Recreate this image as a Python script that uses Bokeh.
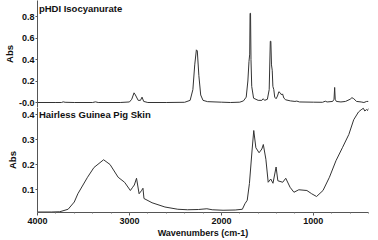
from bokeh.plotting import figure
from bokeh.layouts import column
from bokeh.models import Range1d, FixedTicker, CustomJSTickFormatter, Label, Span
from bokeh.embed import file_html
from bokeh.resources import INLINE

# pHDI Isocyanurate spectrum (wavenumber cm-1, absorbance)
top_wn = [4000, 3800, 3740, 3720, 3700, 3600, 3400, 3370, 3340, 3100, 3000, 2975, 2950, 2935,
          2905, 2880, 2863, 2845, 2800, 2600, 2400, 2340, 2310, 2290, 2272, 2262, 2245, 2225,
          2200, 2150, 2000, 1900, 1800, 1760, 1730, 1712, 1700, 1692, 1688, 1683, 1678, 1670,
          1650, 1600, 1560, 1545, 1530, 1500, 1480, 1468, 1462, 1455, 1447, 1440, 1430, 1420,
          1405, 1390, 1375, 1360, 1345, 1335, 1320, 1300, 1250, 1200, 1180, 1150, 1000, 900,
          870, 850, 790, 775, 768, 762, 750, 700, 650, 600, 580, 560, 530, 480, 450, 420, 400]
top_abs = [0.0, 0.0, 0.0, 0.006, 0.002, 0.0, 0.0, 0.006, 0.0, 0.0, 0.005, 0.03, 0.09, 0.07,
           0.02, 0.02, 0.05, 0.01, 0.0, 0.0, 0.002, 0.02, 0.12, 0.35, 0.49, 0.48, 0.25, 0.07,
           0.02, 0.008, 0.003, 0.0, 0.003, 0.015, 0.05, 0.2, 0.38, 0.45, 0.83, 0.83, 0.40, 0.15,
           0.04, 0.02, 0.02, 0.035, 0.02, 0.03, 0.12, 0.57, 0.57, 0.35, 0.30, 0.15, 0.12, 0.05,
           0.035, 0.06, 0.10, 0.09, 0.07, 0.08, 0.04, 0.025, 0.015, 0.01, 0.013, 0.005, 0.003, 0.002,
           0.012, 0.005, 0.01, 0.03, 0.14, 0.03, 0.01, 0.005, 0.01, 0.03, 0.045, 0.035, 0.01, 0.005,
           0.0, 0.01, 0.01]

# Hairless Guinea Pig Skin spectrum
bot_wn = [4000, 3850, 3758, 3667, 3600, 3561, 3456, 3386, 3281, 3211, 3123, 3053, 2990, 2965,
          2947, 2923, 2895, 2870, 2853, 2842, 2754, 2614, 2474, 2368, 2250, 2158, 2100, 1982,
          1850, 1772, 1744, 1719, 1695, 1667, 1648, 1625, 1590, 1560, 1544, 1516, 1491, 1463,
          1439, 1405, 1386, 1333, 1300, 1253, 1211, 1158, 1070, 1018, 965, 895, 825, 754, 684,
          614, 561, 509, 480, 456, 440, 421, 410, 400]
bot_abs = [0.010, 0.010, 0.011, 0.021, 0.050, 0.083, 0.149, 0.188, 0.219, 0.200, 0.149, 0.129,
           0.096, 0.109, 0.118, 0.145, 0.083, 0.095, 0.105, 0.064, 0.047, 0.030, 0.021, 0.019,
           0.020, 0.023, 0.019, 0.017, 0.018, 0.021, 0.043, 0.057, 0.124, 0.254, 0.336, 0.267,
           0.247, 0.262, 0.280, 0.221, 0.129, 0.142, 0.125, 0.190, 0.135, 0.129, 0.145, 0.109,
           0.089, 0.099, 0.096, 0.083, 0.072, 0.096, 0.149, 0.215, 0.267, 0.320, 0.379, 0.410,
           0.419, 0.425, 0.414, 0.420, 0.416, 0.424]

x_ticks = [4000, 3000, 2000, 1000]
top_yticks = [0.0, 0.2, 0.4, 0.6, 0.8]
bot_yticks = [0.1, 0.2, 0.3, 0.4]
top_title = "pHDI Isocyanurate"
bot_title = "Hairless Guinea Pig Skin"

FONT = "Liberation Sans"
LINE = "#333333"

xr = Range1d(4000, 400)
top_yr = Range1d(-0.0465, 0.949)
bot_yr = Range1d(0.008, 0.428)


def style_y(p, ticks):
    ax = p.yaxis[0]
    ax.ticker = FixedTicker(ticks=ticks)
    ax.axis_label = "Abs"
    ax.axis_label_text_font = FONT
    ax.axis_label_text_font_size = "9.5px"
    ax.axis_label_text_font_style = "bold"
    ax.axis_label_standoff = 1
    ax.major_label_text_font = FONT
    ax.major_label_text_font_size = "9px"
    ax.major_label_text_font_style = "bold"
    ax.major_label_standoff = 1
    ax.major_tick_out = 2
    ax.major_tick_in = 0
    ax.minor_tick_out = 0
    ax.minor_tick_in = 0
    ax.axis_line_color = "#555555"
    ax.major_tick_line_color = "#555555"
    ax.major_label_text_color = "#111111"
    ax.axis_label_text_color = "#111111"


top = figure(width=370, height=107, x_range=xr, y_range=top_yr, output_backend="svg",
             toolbar_location=None, x_axis_location=None,
             min_border_left=28, min_border_right=2, min_border_top=0, min_border_bottom=0)
top.line(top_wn, top_abs, line_color=LINE, line_width=1)
style_y(top, top_yticks)
top.yaxis[0].formatter = CustomJSTickFormatter(
    code="return Math.abs(tick) < 1e-9 ? '-0.0' : tick.toFixed(1);")
top.add_layout(Span(location=top_yr.start, dimension="width", line_color="#bbbbbb", line_width=1))
top.add_layout(Label(x=3985, y=top_yr.end, y_offset=-2, text=top_title, text_font=FONT,
                     text_font_size="9.5px", text_font_style="bold", text_baseline="top",
                     text_color="#111111"))

bot = figure(width=370, height=133, x_range=xr, y_range=bot_yr, output_backend="svg",
             toolbar_location=None,
             min_border_left=28, min_border_right=2, min_border_top=0, min_border_bottom=0)
bot.line(bot_wn, bot_abs, line_color=LINE, line_width=1)
style_y(bot, bot_yticks)
bot.yaxis[0].formatter = CustomJSTickFormatter(code="return tick.toFixed(1);")
xa = bot.xaxis[0]
xa.ticker = FixedTicker(ticks=x_ticks, minor_ticks=list(range(3800, 399, -200)))
xa.axis_label = "Wavenumbers (cm-1)"
xa.axis_label_text_font = FONT
xa.axis_label_text_font_size = "9px"
xa.axis_label_text_font_style = "bold"
xa.axis_label_standoff = 1
xa.major_label_text_font = FONT
xa.major_label_text_font_size = "9px"
xa.major_label_text_font_style = "bold"
xa.major_label_standoff = 2
xa.major_tick_out = 3
xa.major_tick_in = 0
xa.minor_tick_out = 1
xa.minor_tick_in = 0
xa.axis_line_color = "#555555"
xa.major_tick_line_color = "#555555"
xa.minor_tick_line_color = "#777777"
xa.major_label_text_color = "#111111"
xa.axis_label_text_color = "#111111"
bot.add_layout(Label(x=3985, y=bot_yr.end, y_offset=-1, text=bot_title, text_font=FONT,
                     text_font_size="9.5px", text_font_style="bold", text_baseline="top",
                     text_color="#111111"))

for p in (top, bot):
    p.xgrid.visible = False
    p.ygrid.visible = False
    p.outline_line_color = None
    p.background_fill_color = "white"
    p.border_fill_color = "white"

layout = column(top, bot, spacing=0)
open("out.html", "w").write(file_html(layout, INLINE))
